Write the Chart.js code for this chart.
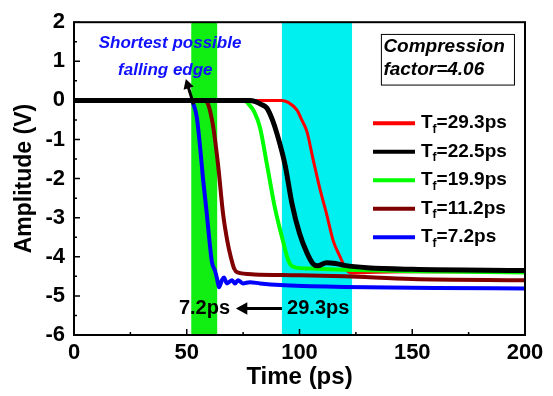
<!DOCTYPE html>
<html>
<head>
<meta charset="utf-8">
<script src="https://cdn.jsdelivr.net/npm/chart.js@4"></script>
<style>
  html, body { margin: 0; padding: 0; background: #fff; }
  #wrap { width: 553px; height: 396px; }
</style>
</head>
<body>
<div id="wrap"><canvas id="chart" width="553" height="396"></canvas></div>
<script>
// falling edges, time in ps and amplitude in V
const redTime = [0, 92, 95, 98.9, 101, 103.3, 106, 109, 112, 115, 118, 120, 121.5, 124, 130, 150, 200];
const redAmp = [0, 0, -0.05, -0.25, -0.5, -0.8, -1.5, -2.25, -2.9, -3.6, -4.0, -4.25, -4.38, -4.42, -4.4, -4.38, -4.38];

const blackTime = [0, 78, 80.5, 83, 85.6, 88, 90, 93.6, 96.7, 100, 103.3, 106, 108, 112, 116, 120, 130, 150, 200];
const blackAmp = [0, 0, -0.03, -0.1, -0.2, -0.5, -0.85, -1.65, -2.65, -3.4, -3.9, -4.18, -4.23, -4.15, -4.17, -4.22, -4.28, -4.32, -4.35];

const greenTime = [0, 75.5, 77.5, 80, 82.5, 85.6, 89.1, 92.7, 94.5, 96, 98, 105, 120, 150, 200];
const greenAmp = [0, 0, -0.1, -0.3, -0.7, -1.65, -2.75, -3.6, -4.0, -4.2, -4.27, -4.3, -4.33, -4.37, -4.4];

const brownTime = [0, 58, 59.5, 61.6, 63.9, 66.1, 68, 69.5, 71, 72.5, 80, 100, 120, 150, 200];
const brownAmp = [0, 0, -0.1, -0.63, -1.65, -2.9, -3.6, -4.0, -4.3, -4.4, -4.45, -4.47, -4.5, -4.57, -4.6];

const blueTime = [0, 52, 53, 54.5, 56, 57.3, 58.8, 60, 61.2, 62.5, 63.4, 64.3, 65.6, 66.5, 67.8, 70.1, 71.4, 72.7, 74.9, 78, 82.5, 91.4, 120, 160, 200];
const blueAmp = [0, 0, -0.1, -0.45, -1.25, -2.05, -2.85, -3.55, -4.15, -4.35, -4.55, -4.78, -4.6, -4.53, -4.68, -4.6, -4.68, -4.6, -4.68, -4.65, -4.68, -4.72, -4.77, -4.8, -4.81];

const fallTimes = ['29.3', '22.5', '19.9', '11.2', '7.2'];
const xTicks = [0, 50, 100, 150, 200];
const yTicks = [2, 1, 0, -1, -2, -3, -4, -5, -6];

// highlighted windows (ps)
const greenBand = [52, 63.5];
const cyanBand = [92.2, 123.3];

function pts(xs, ys) {
    return xs.map((x, i) => ({ x: x, y: ys[i] }));
}

const FONT = 'Arial, "Liberation Sans", sans-serif';

const seriesList = [
    { name: fallTimes[0], time: redTime, amp: redAmp, color: '#ff0000', width: 3, order: 4 },
    { name: fallTimes[1], time: blackTime, amp: blackAmp, color: '#000000', width: 5, order: 0 },
    { name: fallTimes[2], time: greenTime, amp: greenAmp, color: '#00ff00', width: 4, order: 3 },
    { name: fallTimes[3], time: brownTime, amp: brownAmp, color: '#800000', width: 4, order: 2 },
    { name: fallTimes[4], time: blueTime, amp: blueAmp, color: '#0000ff', width: 4, order: 1 }
];

function arrow(ctx, x1, y1, x2, y2, head, lw) {
    const a = Math.atan2(y2 - y1, x2 - x1);
    ctx.save();
    ctx.strokeStyle = '#000';
    ctx.fillStyle = '#000';
    ctx.lineWidth = lw;
    ctx.beginPath();
    ctx.moveTo(x1, y1);
    ctx.lineTo(x2 - Math.cos(a) * head * 0.6, y2 - Math.sin(a) * head * 0.6);
    ctx.stroke();
    ctx.beginPath();
    ctx.moveTo(x2, y2);
    ctx.lineTo(x2 - head * Math.cos(a - 0.5), y2 - head * Math.sin(a - 0.5));
    ctx.lineTo(x2 - head * Math.cos(a + 0.5), y2 - head * Math.sin(a + 0.5));
    ctx.closePath();
    ctx.fill();
    ctx.restore();
}

const bandsPlugin = {
    id: 'bands',
    beforeDatasetsDraw(chart) {
        const { ctx, chartArea, scales } = chart;
        ctx.save();
        ctx.fillStyle = '#11ee11';
        let a = scales.x.getPixelForValue(greenBand[0]), b = scales.x.getPixelForValue(greenBand[1]);
        ctx.fillRect(a, chartArea.top, b - a, chartArea.bottom - chartArea.top);
        ctx.fillStyle = '#00f0f0';
        a = scales.x.getPixelForValue(cyanBand[0]); b = scales.x.getPixelForValue(cyanBand[1]);
        ctx.fillRect(a, chartArea.top, b - a, chartArea.bottom - chartArea.top);
        ctx.restore();
    }
};

const decorPlugin = {
    id: 'decor',
    afterDatasetsDraw(chart) {
        const { ctx, chartArea, scales } = chart;
        const X = v => scales.x.getPixelForValue(v);
        const Y = v => scales.y.getPixelForValue(v);

        // frame
        ctx.save();
        ctx.strokeStyle = '#000';
        ctx.lineWidth = 2;
        ctx.strokeRect(chartArea.left, chartArea.top, chartArea.right - chartArea.left, chartArea.bottom - chartArea.top);

        // inward ticks
        ctx.lineWidth = 1.5;
        ctx.beginPath();
        for (let v = 0; v <= 200; v += 25) {
            const len = v % 50 === 0 ? 6 : 3;
            ctx.moveTo(X(v), chartArea.bottom);
            ctx.lineTo(X(v), chartArea.bottom - len);
        }
        for (let v = -6; v <= 2; v += 0.5) {
            const len = Number.isInteger(v) ? 6 : 3;
            ctx.moveTo(chartArea.left, Y(v));
            ctx.lineTo(chartArea.left + len, Y(v));
        }
        ctx.stroke();

        // arrow to the shortest edge
        arrow(ctx, X(53), Y(-0.1), X(49.6), Y(0.55), 11, 3);

        ctx.fillStyle = '#1010ff';
        ctx.font = 'italic bold 17px ' + FONT;
        ctx.textAlign = 'center';
        ctx.textBaseline = 'middle';
        ctx.fillText('Shortest possible', X(42.6), Y(1.47));
        ctx.fillText('falling edge', X(40.5), Y(0.78));

        // compression box
        ctx.fillStyle = '#fff';
        const bx = X(136.1), by = Y(1.7), bw = X(195.1) - bx, bh = Y(0.405) - by;
        ctx.fillRect(bx, by, bw, bh);
        ctx.lineWidth = 1;
        ctx.strokeRect(bx + 0.5, by + 0.5, bw, bh);
        ctx.fillStyle = '#000';
        ctx.font = 'italic bold 19px ' + FONT;
        ctx.textAlign = 'left';
        ctx.fillText('Compression', X(137.2), Y(1.37));
        ctx.fillText('factor=4.06', X(137.2), Y(0.78));

        // bottom annotation
        ctx.font = 'bold 20px ' + FONT;
        ctx.textAlign = 'right';
        ctx.fillText(fallTimes[4] + 'ps', X(69.2), Y(-5.32));
        ctx.textAlign = 'left';
        ctx.fillText(fallTimes[0] + 'ps', X(94.5), Y(-5.32));
        arrow(ctx, X(92.2), Y(-5.32), X(71.8), Y(-5.32), 13, 3);

        // legend with subscripts
        const lx = chartArea.left + 299, ly = chartArea.top + 101;
        seriesList.forEach((s, i) => {
            const y = ly + i * 28.5;
            ctx.strokeStyle = s.color;
            ctx.lineWidth = 4;
            ctx.beginPath();
            ctx.moveTo(lx, y);
            ctx.lineTo(lx + 42, y);
            ctx.stroke();
            ctx.fillStyle = '#000';
            ctx.textAlign = 'left';
            ctx.font = 'bold 19px ' + FONT;
            let tx = lx + 48;
            ctx.fillText('T', tx, y);
            tx += ctx.measureText('T').width;
            ctx.font = 'bold 12px ' + FONT;
            ctx.fillText('f', tx, y + 6);
            tx += ctx.measureText('f').width;
            ctx.font = 'bold 19px ' + FONT;
            ctx.fillText('=' + s.name + 'ps', tx, y);
        });
        ctx.restore();
    }
};

new Chart(document.getElementById('chart'), {
    type: 'scatter',
    data: {
        datasets: seriesList.map(s => ({
            label: 'Tf=' + s.name + 'ps',
            data: pts(s.time, s.amp),
            showLine: true,
            borderColor: s.color,
            backgroundColor: s.color,
            borderWidth: s.width,
            pointRadius: 0,
            cubicInterpolationMode: 'monotone',
            order: s.order
        }))
    },
    options: {
        responsive: false,
        animation: false,
        layout: { padding: { left: 0, right: 28, top: 19, bottom: 0 } },
        plugins: { legend: { display: false }, tooltip: { enabled: false } },
        scales: {
            x: {
                type: 'linear', min: 0, max: 200,
                afterBuildTicks: s => { s.ticks = xTicks.map(v => ({ value: v })); },
                afterFit: s => { s.height = 61; },
                grid: { display: false, drawTicks: false },
                border: { display: false },
                ticks: { color: '#000', font: { family: FONT, size: 22, weight: 'bold' }, padding: 5, maxRotation: 0 },
                title: { display: true, text: 'Time (ps)', color: '#000', font: { family: FONT, size: 24, weight: 'bold' }, padding: { top: 0, bottom: 4 } }
            },
            y: {
                type: 'linear', min: -6, max: 2,
                afterBuildTicks: s => { s.ticks = yTicks.map(v => ({ value: v })); },
                afterFit: s => { s.width = 74; },
                grid: { display: false, drawTicks: false },
                border: { display: false },
                ticks: { color: '#000', font: { family: FONT, size: 22, weight: 'bold' }, padding: 9 },
                title: { display: true, text: 'Amplitude (V)', color: '#000', font: { family: FONT, size: 23, weight: 'bold' }, padding: { top: 11, bottom: 0 } }
            }
        }
    },
    plugins: [bandsPlugin, decorPlugin]
});
</script>
</body>
</html>
